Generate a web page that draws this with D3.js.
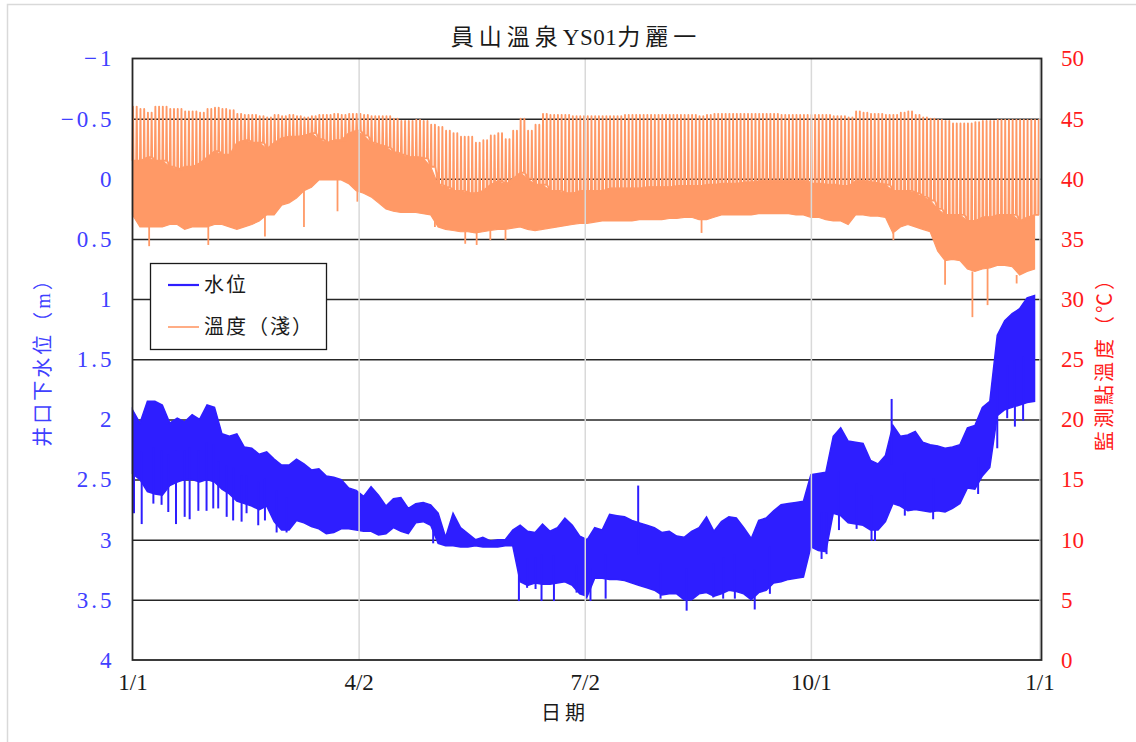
<!DOCTYPE html>
<html><head><meta charset="utf-8">
<script src="https://cdn.jsdelivr.net/npm/d3@7"></script>
<style>body{margin:0;background:#fff} svg{display:block}</style>
</head><body><svg id="c" width="1136" height="742"></svg>
<script>
// ---------------- data ----------------
const titleParts = ["員山溫泉", "YS01", "力麗一"];
const xAxisTitle = "日期";
const leftAxisTitle = "井口下水位（m）";
const rightAxisTitle = "監測點溫度（℃）";
const legendLabels = ["水位", "溫度（淺）"];
const tickDates = ["2023-01-01", "2023-04-02", "2023-07-02", "2023-10-01", "2024-01-01"];
const leftTicks = [-1, -0.5, 0, 0.5, 1, 1.5, 2, 2.5, 3, 3.5, 4];
const rightTicks = [0, 5, 10, 15, 20, 25, 30, 35, 40, 45, 50];
const sampleStepDays = 3; // one sample every 3 days from 1/1

// water level below well mouth (m): upper edge and lower edge of dense band
const waterTop = [
 1.92,2.03,1.85,1.85,1.88,2.03,1.99,2.02,1.96,2.00,
 1.88,1.90,2.12,2.14,2.12,2.23,2.24,2.29,2.27,2.33,
 2.38,2.38,2.33,2.37,2.42,2.41,2.47,2.48,2.50,2.57,
 2.59,2.64,2.56,2.63,2.72,2.66,2.65,2.74,2.70,2.69,
 2.71,2.78,2.98,2.78,2.90,2.95,3.00,2.98,3.01,3.00,
 3.00,2.92,2.88,2.93,2.94,2.87,2.93,2.90,2.82,2.88,
 2.97,3.00,2.90,2.92,2.79,2.80,2.81,2.84,2.86,2.88,
 2.90,2.94,2.93,2.97,2.98,2.93,2.90,2.81,2.93,2.85,
 2.81,2.82,2.90,2.99,2.84,2.82,2.76,2.71,2.70,2.69,
 2.68,2.46,2.45,2.44,2.14,2.07,2.18,2.19,2.20,2.34,
 2.37,2.30,2.05,2.14,2.13,2.10,2.19,2.21,2.22,2.24,
 2.23,2.21,2.07,2.05,1.90,1.85,1.30,1.18,1.12,1.08,
 0.99,0.97];
const waterBase = [
 2.45,2.50,2.60,2.62,2.63,2.55,2.52,2.50,2.50,2.52,
 2.50,2.52,2.58,2.62,2.68,2.70,2.72,2.75,2.72,2.85,
 2.92,2.92,2.84,2.86,2.89,2.91,2.95,2.94,2.91,2.91,
 2.92,2.93,2.93,2.96,2.95,2.90,2.93,2.95,2.86,2.85,
 2.88,3.03,3.05,3.05,3.06,3.06,3.05,3.06,3.06,3.06,
 3.05,3.05,3.35,3.38,3.36,3.37,3.37,3.36,3.35,3.38,
 3.45,3.47,3.32,3.32,3.33,3.33,3.34,3.36,3.38,3.40,
 3.42,3.46,3.45,3.45,3.50,3.50,3.45,3.44,3.47,3.45,
 3.42,3.43,3.45,3.50,3.44,3.42,3.36,3.35,3.33,3.32,
 3.31,3.06,3.09,3.10,2.78,2.80,2.86,2.87,2.88,2.92,
 2.92,2.85,2.70,2.72,2.76,2.75,2.76,2.77,2.76,2.77,
 2.74,2.70,2.57,2.58,2.47,2.40,1.97,1.92,1.90,1.88,
 1.86,1.85];
// isolated spikes of the water level (day of year, level m)
const waterSpikeDays = [0.6,3.7,8.4,11.7,14.4,17.5,21,23,26.5,29.8,32.5,34.5,37.9,40.5,43.9,45.9,50.6,53.3,58,62,121,
 155.5,158.8,162.2,164.6,169.6,178.7,182.7,184.3,190.4,203.5,212.5,223,233.7,237.7,242.4,250.4,256.5,
 277.3,279.3,284.3,291.4,297.4,298.8,305.5,310.8,322.2,340.3,348,352,355.1,358.4];
const waterSpikeLevels = [2.78,2.87,2.70,2.71,2.77,2.87,2.81,2.83,2.76,2.76,2.74,2.74,2.81,2.84,2.85,2.78,2.88,2.84,2.94,2.94,3.03,
 3.51,3.40,3.41,3.51,3.51,3.44,3.49,3.51,3.49,2.55,3.49,3.59,3.48,3.49,3.49,3.58,3.45,
 3.16,3.12,2.92,2.91,3.01,3.01,1.83,2.80,2.83,2.62,2.24,1.99,2.06,2.01];

// shallow temperature (°C): spike tops, top of dense part, lower edge
const tempTop = [
 46.0,45.8,45.5,46.0,46.0,45.8,45.8,45.6,45.6,45.5,
 45.8,45.9,45.8,45.7,45.4,45.3,45.3,45.2,45.1,45.3,
 45.2,45.3,45.2,45.1,45.2,45.3,45.3,45.4,45.3,45.4,
 45.4,45.3,45.2,45.2,45.2,45.0,44.8,44.8,44.9,44.8,
 44.5,44.3,44.0,43.8,43.5,43.5,43.0,43.2,43.6,43.8,
 43.3,44.0,45.0,44.0,44.5,45.4,45.3,45.3,45.3,45.2,
 45.2,45.2,45.2,45.2,45.2,45.2,45.3,45.3,45.3,45.3,
 45.3,45.3,45.3,45.3,45.3,45.3,45.2,45.3,45.4,45.4,
 45.4,45.4,45.4,45.4,45.4,45.4,45.4,45.3,45.3,45.3,
 45.3,45.3,45.3,45.3,45.2,45.2,45.1,45.6,45.5,45.4,
 45.4,45.3,45.3,45.5,45.6,45.3,45.1,45.0,44.9,44.8,
 44.6,44.6,44.6,44.7,44.8,44.8,44.9,44.9,44.9,44.9,
 44.9,44.9];
const tempMid = [
 41.5,41.5,41.8,41.5,41.5,41.0,40.8,41.0,41.0,41.3,
 41.8,42.3,42.0,42.0,43.0,43.2,43.0,43.0,42.5,43.0,
 43.4,43.5,43.5,43.6,43.8,43.3,43.0,43.2,43.2,43.8,
 44.0,43.6,43.0,42.8,42.6,42.2,42.0,41.8,41.8,41.7,
 41.0,39.5,39.3,39.0,39.0,38.8,38.8,39.0,39.5,39.8,
 39.5,40.0,40.5,40.0,39.5,39.5,39.0,39.0,38.8,38.8,
 39.0,39.0,39.0,39.0,39.2,39.2,39.2,39.2,39.2,39.3,
 39.3,39.3,39.3,39.4,39.4,39.4,39.4,39.5,39.5,39.6,
 39.6,39.6,39.7,39.7,39.8,39.8,39.8,39.8,39.8,39.8,
 39.8,39.6,39.6,39.5,39.5,39.4,39.4,39.8,39.8,39.7,
 39.6,39.5,39.0,39.0,39.0,38.8,38.5,38.2,37.5,37.0,
 37.0,37.0,36.5,36.5,36.8,36.8,37.0,37.0,37.0,36.5,
 36.8,37.0];
const tempBase = [
 37.0,36.0,36.0,36.0,36.0,36.2,36.2,35.8,36.0,36.0,
 36.0,36.2,36.2,36.0,35.8,36.0,36.2,36.5,37.0,37.0,
 37.8,38.0,38.4,39.0,39.3,39.9,39.9,39.9,39.9,39.6,
 39.0,38.8,38.5,38.0,37.5,37.3,37.2,37.2,37.2,37.1,
 37.0,36.0,35.8,35.7,35.6,35.6,35.5,35.6,35.7,35.8,
 35.8,35.9,36.0,35.8,35.7,35.8,35.9,36.0,36.1,36.2,
 36.3,36.3,36.4,36.5,36.5,36.5,36.5,36.5,36.6,36.6,
 36.6,36.6,36.7,36.7,36.8,36.8,36.6,36.6,36.8,37.0,
 37.0,37.0,37.0,37.0,37.1,37.1,37.1,37.1,37.1,37.0,
 37.0,36.8,36.8,36.6,36.5,36.5,36.2,37.0,37.0,36.9,
 36.9,36.8,35.5,36.0,36.2,36.0,35.8,35.6,34.0,33.2,
 33.3,33.2,32.5,32.3,32.5,32.6,32.8,32.8,32.7,32.0,
 32.3,32.5];
// isolated downward temperature dips (day of year, °C)
const tempDipDays = [6.7,30.5,53.3,69,82.5,90.5,121.7,133.9,138.5,144,150.1,229,306.2,327,338,344.1,355.8];
const tempDipValues = [34.4,34.5,35.2,36.0,37.3,38.1,36.6,34.6,34.5,34.9,34.9,35.5,34.9,31.2,28.5,29.5,31.3];

// ---------------- drawing ----------------
const blue = "#2e1eff", orange = "#ff9966";
const leftColor = "#4040ff", rightColor = "#ff1a1a", textColor = "#1a1a1a";
const fontNum = '"Liberation Serif", "Noto Sans CJK TC", serif';
const P = {left: 132.5, top: 58.5, right: 1039.5, frameRight: 1041.5, bottom: 660};

const svg = d3.select("#c");
const parse = d3.utcParse("%Y-%m-%d");
const dates = tickDates.map(parse);
const x = d3.scaleUtc().domain([dates[0], dates[dates.length - 1]]).range([P.left, P.right]);
const xd = d => x(d3.utcMinute.offset(dates[0], Math.round(d * 1440)));
const yL = d3.scaleLinear().domain([-1, 4]).range([P.top, P.bottom]);
const yR = d3.scaleLinear().domain([0, 50]).range([P.bottom, P.top]);
const dayOf = i => i * sampleStepDays;

// outer light border
svg.append("rect").attr("x", 7.5).attr("y", 4.5).attr("width", 1200).attr("height", 800)
  .attr("fill", "none").attr("stroke", "#d9d9d9").attr("stroke-width", 1.5);

// horizontal gridlines
svg.append("g").attr("transform", `translate(${P.left},0)`)
  .call(d3.axisLeft(yL).tickValues(leftTicks.slice(1, -1)).tickSize(-(P.frameRight - P.left)).tickFormat(""))
  .call(g => g.select(".domain").remove())
  .selectAll("line").attr("stroke", "#262626").attr("stroke-width", 1.5);

// temperature: dense part as area, narrow vertical spikes up to the tops
const tempIdx = d3.range(tempTop.length);
svg.append("path").datum(tempIdx)
  .attr("d", d3.area().x(i => xd(dayOf(i))).y0(i => yR(tempBase[i])).y1(i => yR(tempMid[i])))
  .attr("fill", orange).attr("stroke", orange).attr("stroke-width", 1.2);
const spikes = [];
tempIdx.forEach(i => {
  [0, sampleStepDays / 2].forEach(off => {
    const dd = dayOf(i) + off;
    spikes.push([dd, tempMid[i]], [dd + 0.2, tempTop[i]], [dd + 0.4, tempMid[i]]);
  });
});
svg.append("path").datum(spikes)
  .attr("d", d3.line().x(p => xd(p[0])).y(p => yR(p[1])))
  .attr("fill", "none").attr("stroke", orange).attr("stroke-width", 1.9).attr("stroke-linejoin", "round");
svg.append("g").selectAll("line").data(tempDipDays).join("line")
  .attr("x1", d => xd(d)).attr("x2", d => xd(d))
  .attr("y1", (d) => yR(tempBase[Math.min(tempBase.length - 1, Math.round(d / sampleStepDays))]))
  .attr("y2", (d, i) => yR(tempDipValues[i]))
  .attr("stroke", orange).attr("stroke-width", 1.8);

// water level band
const wIdx = d3.range(waterTop.length);
svg.append("path").datum(wIdx)
  .attr("d", d3.area().x(i => xd(dayOf(i))).y0(i => yL(waterBase[i])).y1(i => yL(waterTop[i])))
  .attr("fill", blue).attr("stroke", blue).attr("stroke-width", 1.5);
svg.append("g").selectAll("line").data(waterSpikeDays).join("line")
  .attr("x1", d => xd(d)).attr("x2", d => xd(d))
  .attr("y1", d => { const k = Math.min(waterTop.length - 1, Math.round(d / sampleStepDays)); return yL((waterTop[k] + waterBase[k]) / 2); })
  .attr("y2", (d, i) => yL(waterSpikeLevels[i]))
  .attr("stroke", blue).attr("stroke-width", 2);

// vertical gridlines (drawn over data)
svg.append("g").attr("transform", `translate(0,${P.bottom})`)
  .call(d3.axisBottom(x).tickValues(dates.slice(1)).tickSize(-(P.bottom - P.top)).tickFormat(""))
  .call(g => g.select(".domain").remove())
  .selectAll("line").attr("stroke", "#d9d9d9").attr("stroke-width", 1.5);

// plot frame
svg.append("rect").attr("x", P.left).attr("y", P.top).attr("width", P.frameRight - P.left).attr("height", P.bottom - P.top)
  .attr("fill", "none").attr("stroke", "#262626").attr("stroke-width", 1.8);

// left axis labels
const fmtL = d => d < 0 ? "−" + Math.abs(d) : String(d);
svg.append("g").attr("transform", `translate(${P.left},0)`)
  .call(d3.axisLeft(yL).tickValues(leftTicks).tickSize(0).tickPadding(18).tickFormat(fmtL))
  .call(g => g.select(".domain").remove())
  .selectAll("text").attr("fill", leftColor).style("font-family", fontNum).style("font-size", "23px").style("letter-spacing", "3px");

// right axis labels
svg.append("g").attr("transform", `translate(${P.frameRight},0)`)
  .call(d3.axisRight(yR).tickValues(rightTicks).tickSize(0).tickPadding(19.5))
  .call(g => g.select(".domain").remove())
  .selectAll("text").attr("fill", rightColor).style("font-family", fontNum).style("font-size", "23px");

// bottom axis labels
svg.append("g").attr("transform", `translate(0,${P.bottom})`)
  .call(d3.axisBottom(x).tickValues(dates).tickSize(0).tickPadding(14).tickFormat(d3.utcFormat("%-m/%-d")))
  .call(g => g.select(".domain").remove())
  .selectAll("text").attr("fill", textColor).style("font-family", fontNum).style("font-size", "23px");

// titles
const tt = svg.append("text").attr("x", 576).attr("y", 45).attr("text-anchor", "middle")
  .style("font-family", fontNum).style("font-size", "23px").attr("fill", textColor);
titleParts.forEach((t, i) => tt.append("tspan").style("letter-spacing", i === 1 ? "0.5px" : "5px").text(t));
svg.append("text").attr("x", 565).attr("y", 720).attr("text-anchor", "middle")
  .style("font-family", fontNum).style("font-size", "20px").style("letter-spacing", "4px").attr("fill", textColor).text(xAxisTitle);
svg.append("text").attr("transform", "translate(43,357) rotate(-90)").attr("text-anchor", "middle").attr("dominant-baseline", "central")
  .style("font-family", fontNum).style("font-size", "20px").style("letter-spacing", "3px").attr("fill", leftColor).text(leftAxisTitle);
svg.append("text").attr("transform", "translate(1105,359) rotate(-90)").attr("text-anchor", "middle").attr("dominant-baseline", "central")
  .style("font-family", fontNum).style("font-size", "20px").style("letter-spacing", "3px").attr("fill", rightColor).text(rightAxisTitle);

// legend
const lg = svg.append("g");
lg.append("rect").attr("x", 150.5).attr("y", 263.5).attr("width", 176).attr("height", 86)
  .attr("fill", "#fff").attr("stroke", "#1a1a1a").attr("stroke-width", 1.3);
[[blue, 285], [orange, 327]].forEach(([c, yy], i) => {
  lg.append("line").attr("x1", 168).attr("x2", 199).attr("y1", yy).attr("y2", yy).attr("stroke", c).attr("stroke-width", i === 0 ? 2.2 : 1.6);
  lg.append("text").attr("x", 204).attr("y", yy).attr("dominant-baseline", "central")
    .style("font-family", fontNum).style("font-size", "20px").style("letter-spacing", "2px").attr("fill", textColor).text(legendLabels[i]);
});
</script></body></html>
